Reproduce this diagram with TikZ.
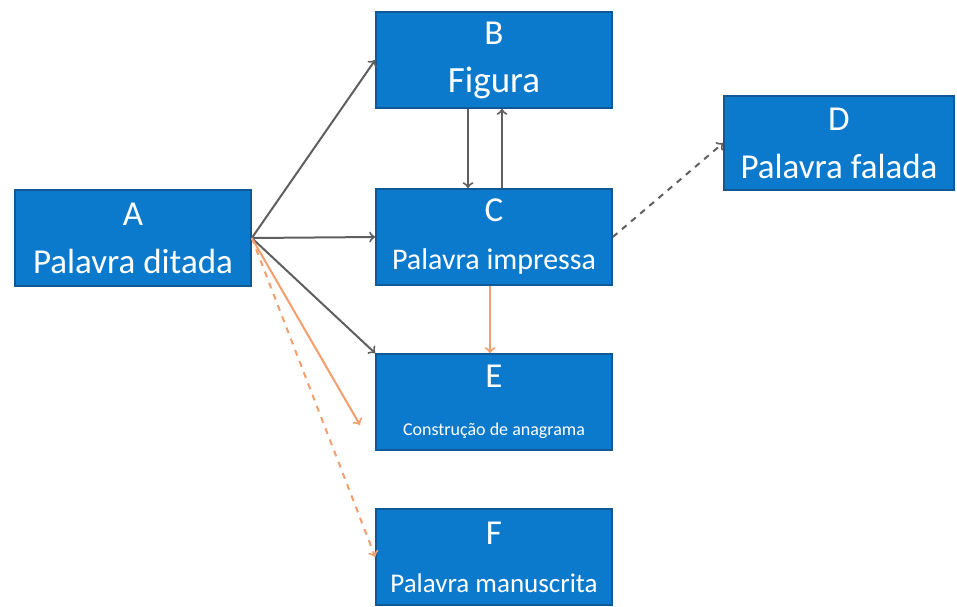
\documentclass[tikz,border=0pt]{standalone}
\usepackage{fontspec}
\setmainfont{Carlito}
\usepackage{tikz}
\usetikzlibrary{positioning}

\definecolor{boxblue}{RGB}{12,122,204}
\definecolor{boxline}{RGB}{16,88,150}
\definecolor{arrowgray}{RGB}{95,95,95}
\definecolor{arroworange}{RGB}{244,158,110}

\begin{document}
\begin{tikzpicture}[x=0.5pt,y=-0.5pt,on grid,
    box/.style={draw=boxline,line width=0.8pt,fill=boxblue,text=white,
      minimum width=118pt,minimum height=48pt,align=center,
      font=\fontsize{17.5}{24}\selectfont},
    link/.style={->,draw=arrowgray,line width=1pt},
    hint/.style={->,draw=arroworange,line width=1pt}]
    \useasboundingbox (0,0) rectangle (957,606);
    \node[box] (A) at (133,238) {A\\Palavra ditada};
    \node[box] (C) at (494,237) {C\\\fontsize{15}{24}\selectfont Palavra impressa};
    \node[box] (B) [above=88.5pt of C] {B\\\fontsize{18.5}{24}\selectfont Figura};
    \node[box] (E) [below=82.5pt of C] {E\\\fontsize{9}{24}\selectfont Construção de anagrama};
    \node[box] (F) [below=77.5pt of E] {F\\\fontsize{13.5}{24}\selectfont Palavra manuscrita};
    \node[box,minimum width=115pt,minimum height=47pt] (D) at (839,143) {D\\Palavra falada};
    \coordinate (e_in) at (360,425);
    % from A
    \draw[link] (A.east) -- (B.west);
    \draw[link] (A.east) -- (C.west);
    \draw[link] (A.east) -- (E.north west);
    \draw[hint] (A.east) -- (e_in);
    \draw[hint,dashed] (A.east) -- (F.west);
    % between B and C
    \draw[link] ([xshift=-13pt]B.south) -- ([xshift=-13pt]C.north);
    \draw[link] ([xshift=4pt]C.north) -- ([xshift=4pt]B.south);
    % from C
    \draw[hint] ([xshift=-2pt]C.south) -- ([xshift=-2pt]E.north);
    \draw[link,dashed] (C.east) -- (D.west);
\end{tikzpicture}
\end{document}
